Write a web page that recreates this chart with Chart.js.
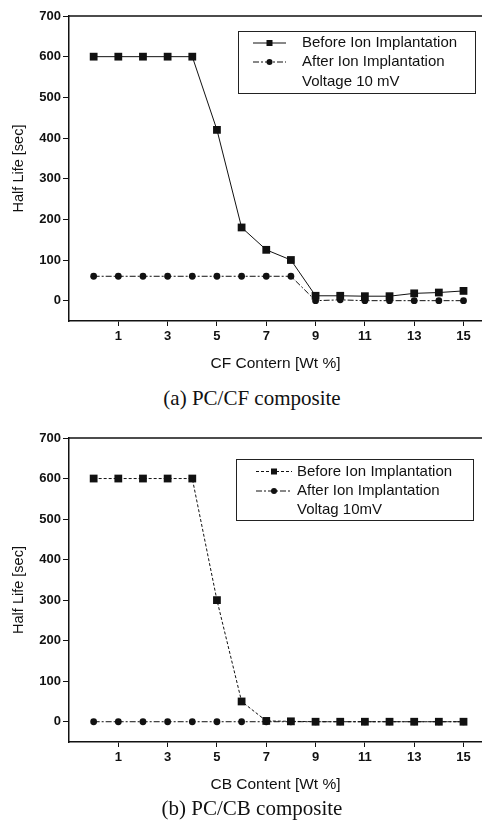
<!DOCTYPE html>
<html>
<head>
<meta charset="utf-8">
<script src="https://cdn.jsdelivr.net/npm/chart.js@4.4.1/dist/chart.umd.min.js"></script>
<style>
  html, body { margin: 0; padding: 0; background: #fff; }
  body { width: 482px; height: 831px; position: relative; overflow: hidden; }
  .wrap { position: absolute; left: 0; width: 482px; height: 380px; }
  .cap { position: absolute; left: 0; width: 504px; text-align: center;
         font-family: "Liberation Serif", "DejaVu Serif", serif; font-size: 21px; color: #111; }
</style>
</head>
<body>
<div class="wrap" style="top:0"><canvas id="c1" width="482" height="380"></canvas></div>
<div class="cap" style="top:386px">(a) PC/CF composite</div>
<div class="wrap" style="top:421px"><canvas id="c2" width="482" height="380"></canvas></div>
<div class="cap" style="top:796px">(b) PC/CB composite</div>
<script>
// ---- data ----
const content = [0, 1, 2, 3, 4, 5, 6, 7, 8, 9, 10, 11, 12, 13, 14, 15];
const cfBefore = [600, 600, 600, 600, 600, 420, 180, 125, 100, 12, 12, 11, 11, 18, 20, 24];
const cfAfter  = [60, 60, 60, 60, 60, 60, 60, 60, 60, 0, 2, 0, 0, 0, 0, 0];
const cbBefore = [600, 600, 600, 600, 600, 300, 50, 2, 1, 0, 0, 0, 0, 0, 0, 0];
const cbAfter  = [0, 0, 0, 0, 0, 0, 0, 0, 0, 0, 0, 0, 0, 0, 0, 0];
const yTickLabels = [0, 100, 200, 300, 400, 500, 600, 700];
const xTickLabels = [1, 3, 5, 7, 9, 11, 13, 15];
const seriesNames = ["Before Ion Implantation", "After Ion Implantation"];
const legendExtra1 = "Voltage 10 mV";
const legendExtra2 = "Voltag 10mV";
const xTitle1 = "CF Contern [Wt %]";
const xTitle2 = "CB Content [Wt %]";
const yTitle = "Half Life [sec]";

const toXY = (xs, ys) => xs.map((x, i) => ({ x: x, y: ys[i] }));

const frameLegend = {
  id: 'frameLegend',
  afterDraw(chart, args, opts) {
    const ctx = chart.ctx, a = chart.chartArea;
    ctx.save();
    ctx.strokeStyle = '#111';
    ctx.lineWidth = 1.5;
    ctx.beginPath();
    ctx.moveTo(a.left, a.top);
    ctx.lineTo(a.right, a.top);
    ctx.stroke();
    const b = opts.box;
    ctx.lineWidth = 1;
    ctx.strokeStyle = '#222';
    ctx.strokeRect(b.x + 0.5, b.y + 0.5, b.w, b.h);
    ctx.font = '15px "Liberation Sans", Arial, sans-serif';
    ctx.fillStyle = '#111';
    ctx.textBaseline = 'middle';
    chart.data.datasets.forEach((ds, i) => {
      const y = b.y + opts.rows[i];
      ctx.strokeStyle = '#111';
      ctx.lineWidth = 1;
      ctx.setLineDash(ds.borderDash || []);
      ctx.beginPath();
      ctx.moveTo(b.x + opts.lineX0, y);
      ctx.lineTo(b.x + opts.lineX1, y);
      ctx.stroke();
      ctx.setLineDash([]);
      const mx = (opts.lineX0 + opts.lineX1) / 2 + b.x;
      ctx.beginPath();
      if (ds.pointStyle === 'rect') {
        ctx.rect(mx - 3, y - 3, 6, 6);
      } else {
        ctx.arc(mx, y, 3, 0, Math.PI * 2);
      }
      ctx.fill();
      ctx.fillText(ds.label, b.x + opts.textX, y);
    });
    ctx.fillText(opts.extra, b.x + opts.textX, b.y + opts.rows[2]);
    ctx.restore();
  }
};

function makeChart(id, before, after, xTitle, extra, box, rows, lineX0, lineX1, textX, beforeDash, padTop) {
  return new Chart(document.getElementById(id), {
    type: 'line',
    data: {
      datasets: [
        { label: seriesNames[0], data: toXY(content, before), borderColor: '#111', backgroundColor: '#111',
          borderWidth: 1, borderDash: beforeDash, pointStyle: 'rect', pointRadius: 5.5, pointHoverRadius: 5.5,
          pointBorderWidth: 0, tension: 0, clip: false },
        { label: seriesNames[1], data: toXY(content, after), borderColor: '#111', backgroundColor: '#111',
          borderWidth: 1, borderDash: [6, 2, 2, 2], pointStyle: 'circle', pointRadius: 3.4, pointHoverRadius: 3.4,
          pointBorderWidth: 0, tension: 0, clip: false }
      ]
    },
    options: {
      responsive: false,
      animation: false,
      layout: { autoPadding: false, padding: { top: padTop, right: 0, bottom: 0, left: 0 } },
      plugins: {
        legend: { display: false },
        tooltip: { enabled: false },
        frameLegend: { box: box, rows: rows, lineX0: lineX0, lineX1: lineX1, textX: textX, extra: extra }
      },
      scales: {
        x: {
          type: 'linear', min: -1, max: 15.75,
          afterFit: s => { s.height = 59; s.paddingRight = 0; s.paddingLeft = 0; },
          border: { display: true, color: '#111', width: 1.5 },
          grid: { drawOnChartArea: false, drawTicks: true, tickLength: 5,
                  tickColor: c => (xTickLabels.includes(c.tick.value) ? '#111' : 'rgba(0,0,0,0)') },
          ticks: { stepSize: 1, includeBounds: false, autoSkip: false, maxRotation: 0, padding: 3, color: '#111',
                   font: { family: '"Liberation Sans", Arial, sans-serif', size: 13, weight: 'bold' },
                   callback: v => (xTickLabels.includes(v) ? String(v) : '') },
          title: { display: true, text: xTitle, color: '#111', padding: { top: 4, bottom: 7 },
                   font: { family: '"Liberation Sans", Arial, sans-serif', size: 15.5 } }
        },
        y: {
          type: 'linear', min: -50, max: 700,
          afterFit: s => { s.width = 69; s.paddingTop = 0; s.paddingBottom = 0; },
          border: { display: true, color: '#111', width: 1.5 },
          grid: { drawOnChartArea: false, drawTicks: true, tickLength: 6,
                  tickColor: c => (yTickLabels.includes(c.tick.value) ? '#111' : 'rgba(0,0,0,0)') },
          ticks: { stepSize: 50, includeBounds: false, autoSkip: false, padding: 2, color: '#111',
                   font: { family: '"Liberation Sans", Arial, sans-serif', size: 13, weight: 'bold' },
                   callback: v => (yTickLabels.includes(v) ? String(v) : '') },
          title: { display: true, text: yTitle, color: '#111', padding: { top: 10, bottom: 10 },
                   font: { family: '"Liberation Sans", Arial, sans-serif', size: 14.5 } }
        }
      }
    },
    plugins: [frameLegend]
  });
}

makeChart('c1', cfBefore, cfAfter, xTitle1, legendExtra1,
  { x: 238, y: 31, w: 237, h: 62 }, [12, 31, 51], 15, 48, 64, [], 16);
makeChart('c2', cbBefore, cbAfter, xTitle2, legendExtra2,
  { x: 236, y: 38, w: 237, h: 61 }, [12.5, 32, 51], 20, 56, 61, [3, 2], 17);
</script>
</body>
</html>
